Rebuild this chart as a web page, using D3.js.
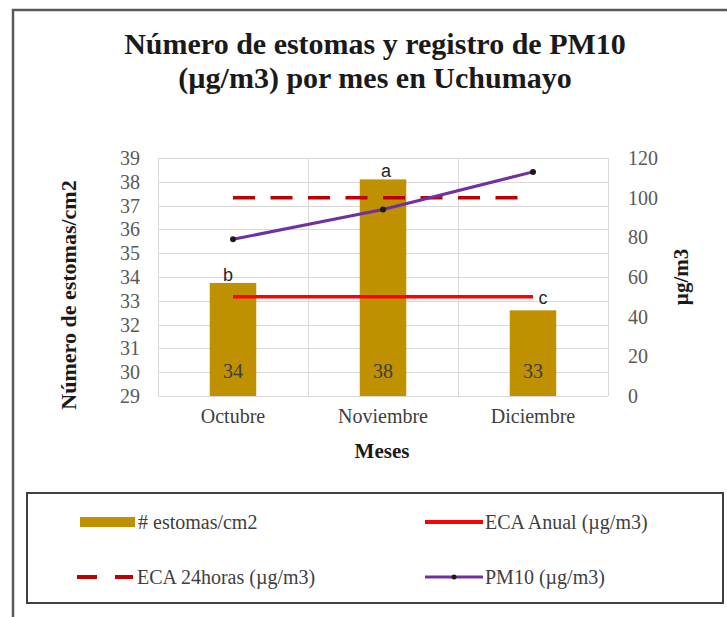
<!DOCTYPE html>
<html>
<head>
<meta charset="utf-8">
<script src="https://cdn.jsdelivr.net/npm/d3@7"></script>
<style>
  html, body { margin: 0; padding: 0; background: #fff; }
  svg text { font-family: "Liberation Serif", "DejaVu Serif", serif; }
</style>
</head>
<body>
<div id="chart"></div>
<script>
// Chart values
const months = ['Octubre', 'Noviembre', 'Diciembre'];
const estomas = [33.75, 38.1, 32.6];
const estomasLabels = ['34', '38', '33'];
const letters = ['b', 'a', 'c'];
const ecaAnual = [50, 50, 50];
const eca24h = [100, 100, 100];
const pm10 = [79, 94, 113];
const leftTicks = d3.range(29, 40, 1);
const rightTicks = d3.range(0, 121, 20);

const SERIF = '"Liberation Serif", "DejaVu Serif", serif';
const SANS = '"Liberation Sans", "DejaVu Sans", sans-serif';

const width = 727, height = 617;
const plot = { left: 158, right: 608, top: 158, bottom: 396 };

const svg = d3.select('#chart')
  .append('svg')
  .attr('width', width)
  .attr('height', height);

// Outer chart border (runs off the right and bottom of the picture)
svg.append('rect')
  .attr('x', 13).attr('y', 10)
  .attr('width', 760).attr('height', 660)
  .attr('fill', 'white')
  .attr('stroke', '#595959')
  .attr('stroke-width', 2.5);

// Title
const title = svg.append('text')
  .attr('text-anchor', 'middle')
  .style('font-family', SERIF)
  .style('font-size', '30px')
  .style('font-weight', 'bold')
  .attr('fill', '#1a1a1a');
title.append('tspan').attr('x', 375).attr('y', 54).text('Número de estomas y registro de PM10');
title.append('tspan').attr('x', 375).attr('y', 88).text('(µg/m3) por mes en Uchumayo');

// Scales
const x = d3.scaleBand()
  .domain(months)
  .range([plot.left, plot.right])
  .padding(0);

const yLeft = d3.scaleLinear()
  .domain([29, 39])
  .range([plot.bottom, plot.top]);

const yRight = d3.scaleLinear()
  .domain([0, 120])
  .range([plot.bottom, plot.top]);

const cx = m => x(m) + x.bandwidth() / 2;

// Gridlines
const grid = svg.append('g').attr('stroke', '#d9d9d9').attr('stroke-width', 1);
grid.selectAll('line.h')
  .data(leftTicks)
  .join('line')
  .attr('class', 'h')
  .attr('x1', plot.left).attr('x2', plot.right)
  .attr('y1', d => Math.round(yLeft(d)) + 0.5)
  .attr('y2', d => Math.round(yLeft(d)) + 0.5);
grid.selectAll('line.v')
  .data(months.concat(['end']))
  .join('line')
  .attr('class', 'v')
  .attr('x1', (d, i) => plot.left + i * x.step() + 0.5)
  .attr('x2', (d, i) => plot.left + i * x.step() + 0.5)
  .attr('y1', plot.top).attr('y2', plot.bottom);

// Axes (labels only, lines hidden)
const axisLeft = svg.append('g')
  .attr('transform', `translate(${plot.left},0)`)
  .call(d3.axisLeft(yLeft).tickValues(leftTicks).tickSize(0).tickPadding(18));
const axisRight = svg.append('g')
  .attr('transform', `translate(${plot.right},0)`)
  .call(d3.axisRight(yRight).tickValues(rightTicks).tickSize(0).tickPadding(20));
const axisBottom = svg.append('g')
  .attr('transform', `translate(0,${plot.bottom})`)
  .call(d3.axisBottom(x).tickSize(0).tickPadding(13));

[axisLeft, axisRight, axisBottom].forEach(a => {
  a.attr('font-family', null).attr('font-size', null);
  a.select('.domain').remove();
  a.selectAll('text')
    .style('font-family', SERIF)
    .style('font-size', '20px')
    .attr('fill', '#595959');
});
axisBottom.selectAll('text').attr('fill', '#404040');

// Axis titles
svg.append('text')
  .attr('transform', 'translate(76,295) rotate(-90)')
  .attr('text-anchor', 'middle')
  .style('font-family', SERIF)
  .style('font-size', '22px')
  .style('font-weight', 'bold')
  .attr('fill', '#1a1a1a')
  .text('Número de estomas/cm2');

svg.append('text')
  .attr('transform', 'translate(688,277) rotate(-90)')
  .attr('text-anchor', 'middle')
  .style('font-family', SERIF)
  .style('font-size', '21px')
  .style('font-weight', 'bold')
  .attr('fill', '#1a1a1a')
  .text('µg/m3');

svg.append('text')
  .attr('x', 382).attr('y', 458)
  .attr('text-anchor', 'middle')
  .style('font-family', SERIF)
  .style('font-size', '21px')
  .style('font-weight', 'bold')
  .attr('fill', '#1a1a1a')
  .text('Meses');

// Bars
const barW = x.bandwidth() * 0.31;
svg.append('g')
  .selectAll('rect')
  .data(months)
  .join('rect')
  .attr('x', d => cx(d) - barW / 2)
  .attr('y', (d, i) => yLeft(estomas[i]))
  .attr('width', barW)
  .attr('height', (d, i) => yLeft(29) - yLeft(estomas[i]))
  .attr('fill', '#BF9000');

// Bar values inside bars
svg.append('g')
  .selectAll('text')
  .data(months)
  .join('text')
  .attr('x', d => cx(d))
  .attr('y', 378)
  .attr('text-anchor', 'middle')
  .style('font-family', SERIF)
  .style('font-size', '20px')
  .attr('fill', '#404040')
  .text((d, i) => estomasLabels[i]);

// Lines
const line = d3.line()
  .x(d => cx(d.m))
  .y(d => yRight(d.v));
const series = arr => months.map((m, i) => ({ m, v: arr[i] }));

svg.append('path')
  .datum(series(ecaAnual))
  .attr('d', line)
  .attr('fill', 'none')
  .attr('stroke', '#FF0000')
  .attr('stroke-width', 3.5);

svg.append('path')
  .datum(series(eca24h))
  .attr('d', line)
  .attr('fill', 'none')
  .attr('stroke', '#C00000')
  .attr('stroke-width', 3.5)
  .attr('stroke-dasharray', '22,15.5');

svg.append('path')
  .datum(series(pm10))
  .attr('d', line)
  .attr('fill', 'none')
  .attr('stroke', '#7030A0')
  .attr('stroke-width', 3);

svg.append('g')
  .selectAll('circle')
  .data(series(pm10))
  .join('circle')
  .attr('cx', d => cx(d.m))
  .attr('cy', d => yRight(d.v))
  .attr('r', 3)
  .attr('fill', '#1a1a1a');

// Significance letters
const letterPos = [
  { x: cx(months[0]) - 5, y: yLeft(estomas[0]) - 2 },
  { x: cx(months[1]) + 3, y: yLeft(estomas[1]) - 2 },
  { x: cx(months[2]) + 10, y: yRight(ecaAnual[2]) + 7 }
];
svg.append('g')
  .selectAll('text')
  .data(letters)
  .join('text')
  .attr('x', (d, i) => letterPos[i].x)
  .attr('y', (d, i) => letterPos[i].y)
  .attr('text-anchor', 'middle')
  .style('font-family', SANS)
  .style('font-size', '18px')
  .attr('fill', '#262626')
  .text(d => d);

// Legend
const legend = svg.append('g');
legend.append('rect')
  .attr('x', 27).attr('y', 493)
  .attr('width', 696).attr('height', 110)
  .attr('fill', 'white')
  .attr('stroke', '#404040')
  .attr('stroke-width', 2);

const legendItems = [
  { label: '# estomas/cm2', x: 78, y: 522, type: 'bar' },
  { label: 'ECA Anual (µg/m3)', x: 425, y: 522, type: 'anual' },
  { label: 'ECA 24horas (µg/m3)', x: 77, y: 577, type: 'dash' },
  { label: 'PM10 (µg/m3)', x: 425, y: 577, type: 'pm10' }
];

legendItems.forEach(it => {
  const g = legend.append('g').attr('transform', `translate(${it.x},${it.y})`);
  if (it.type === 'bar') {
    g.append('rect').attr('x', 2).attr('y', -5).attr('width', 55).attr('height', 10).attr('fill', '#BF9000');
  } else if (it.type === 'anual') {
    g.append('line').attr('x1', 0).attr('x2', 58).attr('stroke', '#FF0000').attr('stroke-width', 4);
  } else if (it.type === 'dash') {
    g.append('line').attr('x1', 0).attr('x2', 56).attr('stroke', '#C00000').attr('stroke-width', 4)
      .attr('stroke-dasharray', '20,18');
  } else {
    g.append('line').attr('x1', 0).attr('x2', 58).attr('stroke', '#7030A0').attr('stroke-width', 3);
    g.append('circle').attr('cx', 29).attr('r', 2.5).attr('fill', '#1a1a1a');
  }
  g.append('text')
    .attr('x', 60).attr('y', 7)
    .style('font-family', SERIF)
    .style('font-size', '20px')
    .attr('fill', '#404040')
    .text(it.label);
});
</script>
</body>
</html>
